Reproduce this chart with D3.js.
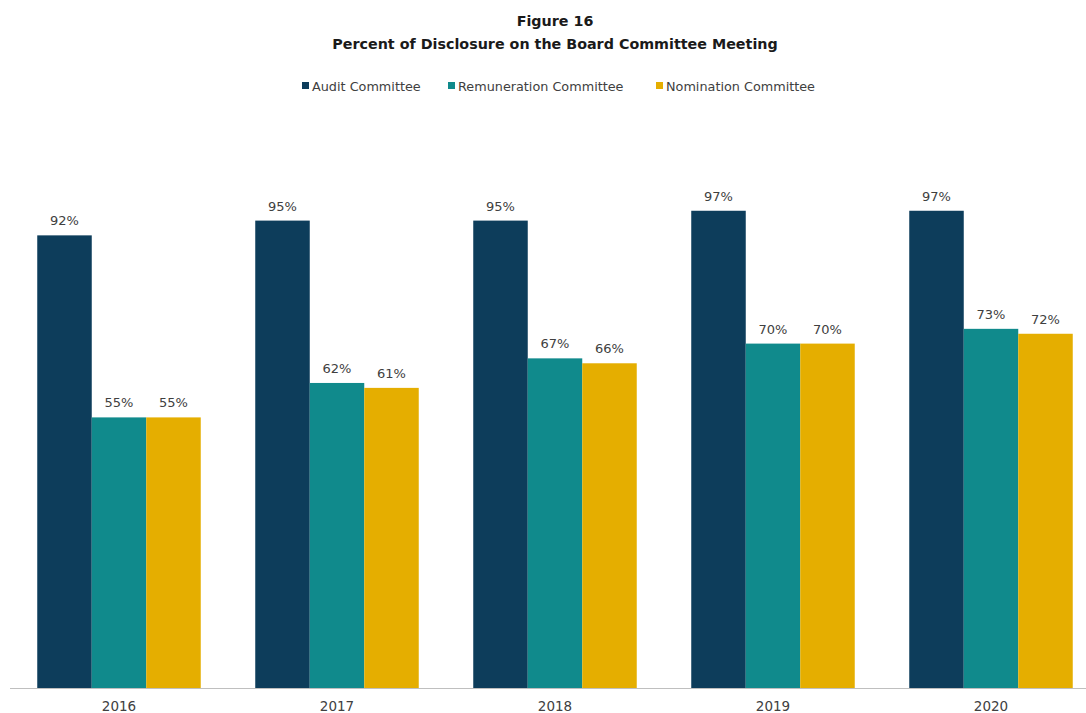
<!DOCTYPE html>
<html>
<head>
<meta charset="utf-8">
<script src="https://cdn.jsdelivr.net/npm/d3@7"></script>
<style>
  html, body { margin: 0; padding: 0; background: #fff; }
  svg { display: block; }
  text { font-family: "DejaVu Sans", "Liberation Sans", sans-serif; }
</style>
</head>
<body>
<svg id="chart" width="1086" height="713"></svg>
<script>
// Chart data
const years = ["2016", "2017", "2018", "2019", "2020"];
const seriesNames = ["Audit Committee", "Remuneration Committee", "Nomination Committee"];
const auditValues = [92, 95, 95, 97, 97];
const remunerationValues = [55, 62, 67, 70, 73];
const nominationValues = [55, 61, 66, 70, 72];
const seriesColors = ["#0d3d5b", "#108a8c", "#e5ae00"];

const seriesValues = [auditValues, remunerationValues, nominationValues];

const svg = d3.select("#chart");

// Title
svg.append("text")
  .attr("x", 555).attr("y", 26)
  .attr("text-anchor", "middle")
  .attr("font-size", 14.3).attr("font-weight", "bold").attr("fill", "#1a1a1a")
  .text("Figure 16");
svg.append("text")
  .attr("x", 555).attr("y", 49)
  .attr("text-anchor", "middle")
  .attr("font-size", 14.3).attr("font-weight", "bold").attr("fill", "#1a1a1a")
  .text("Percent of Disclosure on the Board Committee Meeting");

// Legend
const legendX = [302, 448, 656];
const legend = svg.append("g");
seriesNames.forEach((name, i) => {
  const g = legend.append("g").attr("transform", `translate(${legendX[i]},86)`);
  g.append("rect").attr("x", 0).attr("y", -4).attr("width", 7).attr("height", 7).attr("fill", seriesColors[i]);
  g.append("text").attr("x", 10).attr("y", 4.5)
    .attr("font-size", 12.8).attr("fill", "#404040").text(name);
});

// Scales
const x0 = d3.scaleBand().domain(years).range([10, 1100]).paddingInner(0.25).paddingOuter(0.125);
const x1 = d3.scaleBand().domain(d3.range(seriesNames.length)).range([0, x0.bandwidth()]);
const y = d3.scaleLinear().domain([0, 100]).range([688, 196]);

// Bars
const groups = svg.append("g").selectAll("g")
  .data(years)
  .join("g")
  .attr("transform", d => `translate(${x0(d)},0)`);

groups.selectAll("rect")
  .data((d, yi) => seriesValues.map((vals, si) => ({ si, v: vals[yi] })))
  .join("rect")
  .attr("x", d => x1(d.si))
  .attr("y", d => y(d.v))
  .attr("width", x1.bandwidth())
  .attr("height", d => y(0) - y(d.v))
  .attr("fill", d => seriesColors[d.si]);

groups.selectAll("text.value")
  .data((d, yi) => seriesValues.map((vals, si) => ({ si, v: vals[yi] })))
  .join("text")
  .attr("class", "value")
  .attr("x", d => x1(d.si) + x1.bandwidth() / 2)
  .attr("y", d => y(d.v) - 10)
  .attr("text-anchor", "middle")
  .attr("font-size", 13).attr("fill", "#404040")
  .text(d => d.v + "%");

// X axis
const xAxis = svg.append("g")
  .attr("transform", "translate(0,688)")
  .call(d3.axisBottom(x0).tickSize(0).tickPadding(13));
xAxis.select(".domain").remove();
xAxis.append("line").attr("x1", 10).attr("x2", 1086).attr("y1", 0.5).attr("y2", 0.5)
  .attr("stroke", "#bfbfbf").attr("stroke-width", 1);
xAxis.selectAll(".tick text")
  .attr("font-size", 13.5).attr("fill", "#404040")
  .style("font-family", "\"DejaVu Sans\", sans-serif");
</script>
</body>
</html>
